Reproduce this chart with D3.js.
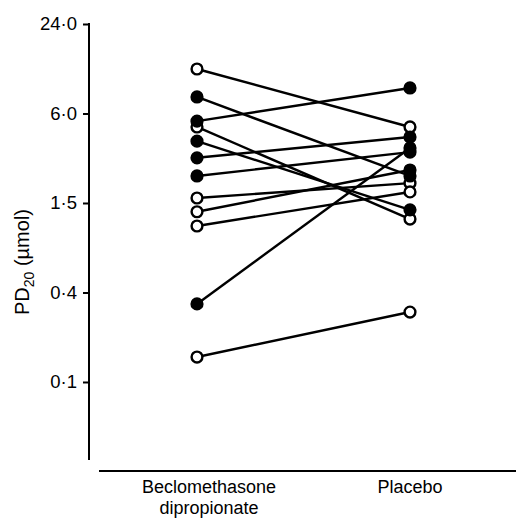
<!DOCTYPE html>
<html>
<head>
<meta charset="utf-8">
<script src="https://cdn.jsdelivr.net/npm/d3@7"></script>
<style>
  html, body { margin: 0; padding: 0; background: #fff; }
  svg { display: block; font-family: "Liberation Sans", Arial, Helvetica, sans-serif; }
</style>
</head>
<body>
<div id="chart"></div>
<script>
// categories on the x axis
const categories = ["Beclomethasone dipropionate", "Placebo"];

// PD20 (µmol) per subject
const beclomethasone = [11.95, 7.75, 5.33, 4.87, 3.91, 3.02, 2.28, 1.62, 1.31, 1.05, 0.314, 0.138];
const placebo        = [4.87, 2.28, 8.91, 1.17, 1.35, 4.17, 3.3, 2.04, 2.5, 1.78, 3.52, 0.277];
// marker filled (true) or open (false) on each side
const filledBdp     = [false, true, true, false, true, true, true, false, false, false, true, false];
const filledPlacebo = [false, true, true, false, true, true, true, false, true, false, true, false];

// y ticks: quarter steps on the log axis, labelled as in the figure
const tickValues = [0.09375, 0.375, 1.5, 6, 24];
const tickLabels = ["0·1", "0·4", "1·5", "6·0", "24·0"];

const width = 516, height = 518;

const svg = d3.select("#chart")
    .append("svg")
    .attr("width", width)
    .attr("height", height);

const y = d3.scaleLog()
    .domain([0.028, 24])
    .range([460, 24]);

const x = d3.scalePoint()
    .domain(categories)
    .range([197, 410]);

// y axis
const yAxis = d3.axisLeft(y)
    .tickValues(tickValues)
    .tickSize(6)
    .tickPadding(6)
    .tickFormat((d, i) => tickLabels[i]);

const gy = svg.append("g")
    .attr("transform", "translate(89,0)")
    .call(yAxis);
gy.select(".domain").remove();
gy.append("line")
    .attr("x1", 0).attr("x2", 0)
    .attr("y1", y(24) - 1).attr("y2", 460)
    .attr("stroke", "#000").attr("stroke-width", 2);
gy.selectAll(".tick line").attr("stroke", "#000").attr("stroke-width", 2);
gy.selectAll(".tick text")
    .attr("fill", "#000")
    .style("font-size", "18.5px");

// x axis: plain baseline, detached from y axis
svg.append("line")
    .attr("x1", 99).attr("x2", 516)
    .attr("y1", 471).attr("y2", 471)
    .attr("stroke", "#000").attr("stroke-width", 2);

// category labels
const catLabels = [["Beclomethasone", "dipropionate"], ["Placebo"]];
const labelShift = [12, 0];
categories.forEach((c, i) => {
    const t = svg.append("text")
        .attr("x", x(c) + labelShift[i])
        .attr("y", 493)
        .attr("text-anchor", "middle")
        .style("font-size", "18px")
        .attr("fill", "#000");
    catLabels[i].forEach((line, j) => {
        t.append("tspan")
            .attr("x", x(c) + labelShift[i])
            .attr("dy", j === 0 ? 0 : 20.5)
            .text(line);
    });
});

// y axis title
const yt = svg.append("text")
    .attr("transform", "translate(29,262) rotate(-90)")
    .attr("text-anchor", "middle")
    .style("font-size", "20px")
    .attr("fill", "#000");
yt.append("tspan").text("PD");
yt.append("tspan").attr("dy", 5).style("font-size", "14px").text("20");
yt.append("tspan").attr("dy", -5).text(" (µmol)");

// subjects
const subjects = beclomethasone.map((v, i) => ({
    a: v, b: placebo[i], fa: filledBdp[i], fb: filledPlacebo[i]
}));

svg.selectAll("line.subject")
    .data(subjects)
    .enter()
    .append("line")
    .attr("class", "subject")
    .attr("x1", x(categories[0]))
    .attr("x2", x(categories[1]))
    .attr("y1", d => y(d.a))
    .attr("y2", d => y(d.b))
    .attr("stroke", "#000")
    .attr("stroke-width", 2.4);

const points = [];
subjects.forEach(d => {
    points.push({ cx: x(categories[0]), v: d.a, filled: d.fa });
    points.push({ cx: x(categories[1]), v: d.b, filled: d.fb });
});
// open markers first so filled ones sit on top
points.sort((p, q) => (p.filled === q.filled ? 0 : p.filled ? 1 : -1));

svg.selectAll("circle")
    .data(points)
    .enter()
    .append("circle")
    .attr("cx", d => d.cx)
    .attr("cy", d => y(d.v))
    .attr("r", 5.4)
    .attr("fill", d => d.filled ? "#000" : "#fff")
    .attr("stroke", "#000")
    .attr("stroke-width", 2.4);
</script>
</body>
</html>
